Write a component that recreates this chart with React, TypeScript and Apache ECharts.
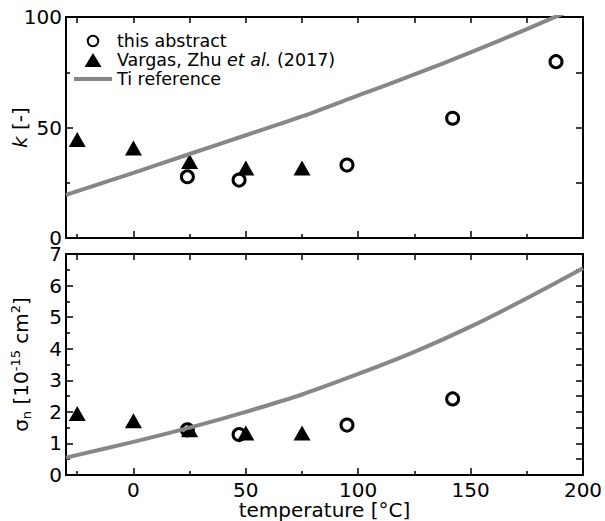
import React, { useEffect, useRef } from 'react';
import * as echarts from 'echarts';

const FONT = '"DejaVu Sans", Verdana, sans-serif';

// x-axis (temperature) ticks
const TEMP_MAJOR = [0, 50, 100, 150, 200];
const TEMP_MINOR = [-25, 25, 75, 125, 175];
const TEMP_ALL = [-25, 0, 25, 50, 75, 100, 125, 150, 175, 200];

// top panel: k [-]
const abstractTempK = [24, 47, 95, 142, 188];
const abstractK = [27.7, 26.2, 33.0, 54.2, 79.8];
const vargasTemp = [-25, 0, 25, 50, 75];
const vargasK = [44.6, 40.7, 34.6, 31.7, 31.7];
const tiTemp = [-30, 0, 25, 50, 75, 100, 125, 150, 175, 200];
const tiK = [19.5, 29.5, 38, 46.5, 55, 64.5, 74, 84, 94.5, 105.5];

// bottom panel: sigma_n [1e-15 cm^2]
const abstractTempSigma = [24, 47, 95, 142];
const abstractSigma = [1.43, 1.28, 1.58, 2.41];
const vargasSigma = [1.95, 1.72, 1.43, 1.33, 1.33];
const tiSigma = [0.55, 1.05, 1.5, 2.0, 2.55, 3.2, 3.9, 4.7, 5.6, 6.55];

const S_ABSTRACT = 'this abstract';
const S_VARGAS = 'Vargas, Zhu et al. (2017)';
const S_TI = 'Ti reference';

const pair = (xs: number[], ys: number[]) => xs.map((x, i) => [x, ys[i]]);

const lineStyle = { color: '#000', width: 2 };
const tickStyle = { color: '#000', width: 1.5 };
const labelStyle = { fontSize: 20, fontFamily: FONT, color: '#000' };

function xAxes(gridIndex: number, showLabels: boolean) {
  return [
    {
      type: 'value', gridIndex, position: 'bottom', min: -30, max: 200,
      axisLine: { show: true, onZero: false, lineStyle },
      axisTick: { show: true, inside: true, length: 7, customValues: TEMP_MAJOR, lineStyle: tickStyle },
      axisLabel: { show: showLabels, customValues: TEMP_MAJOR, margin: 5, ...labelStyle },
      splitLine: { show: false },
      name: showLabels ? 'temperature [°C]' : '',
      nameLocation: 'middle', nameGap: 25, nameMoveOverlap: false,
      nameTextStyle: { ...labelStyle },
    },
    {
      type: 'value', gridIndex, position: 'bottom', min: -30, max: 200,
      axisLine: { show: false, onZero: false },
      axisTick: { show: true, inside: true, length: 4, customValues: TEMP_MINOR, lineStyle: tickStyle },
      axisLabel: { show: false },
      splitLine: { show: false },
    },
    {
      type: 'value', gridIndex, position: 'top', min: -30, max: 200,
      axisLine: { show: true, onZero: false, lineStyle },
      axisTick: { show: true, inside: true, length: 6, customValues: TEMP_ALL, lineStyle: tickStyle },
      axisLabel: { show: false },
      splitLine: { show: false },
    },
  ];
}

function yAxes(gridIndex: number, max: number, interval: number, name: string, nameGap: number, rich: any) {
  return [
    {
      type: 'value', gridIndex, position: 'left', min: 0, max, interval,
      axisLine: { show: true, onZero: false, lineStyle },
      axisTick: { show: true, inside: true, length: 7, lineStyle: tickStyle },
      minorTick: { show: true, splitNumber: 2, length: 4, lineStyle: tickStyle },
      axisLabel: { margin: 4, ...labelStyle },
      splitLine: { show: false },
      minorSplitLine: { show: false },
      name, nameLocation: 'middle', nameGap, nameMoveOverlap: false,
      nameTextStyle: { ...labelStyle, rich },
    },
    {
      type: 'value', gridIndex, position: 'right', min: 0, max, interval: interval / 2,
      axisLine: { show: true, onZero: false, lineStyle },
      axisTick: { show: true, inside: true, length: 7, lineStyle: tickStyle },
      axisLabel: { show: false },
      splitLine: { show: false },
    },
  ];
}

const circleStyle = { color: '#fff', borderColor: '#000', borderWidth: 3, opacity: 1 };
const triStyle = { color: '#000', opacity: 1 };
const tiLine = { color: '#878787', width: 4 };

export default function App() {
  const ref = useRef<HTMLDivElement>(null);
  useEffect(() => {
    const chart = echarts.init(ref.current!, null, { renderer: 'svg' });
    const option: any = {
      animation: false,
      backgroundColor: '#fff',
      grid: [
        { left: 66, right: 22, top: 17, height: 221, outerBoundsMode: 'none' },
        { left: 66, right: 22, top: 254, height: 221, outerBoundsMode: 'none' },
      ],
      legend: {
        show: true, orient: 'vertical', left: 74, top: 32, padding: 0, itemGap: 1,
        itemWidth: 38, itemHeight: 14,
        textStyle: { fontSize: 17.5, fontFamily: FONT, color: '#000',
          rich: { i: { fontStyle: 'italic', fontSize: 17.5, fontFamily: FONT, color: '#000' } } },
        formatter: (n: string) => (n === S_VARGAS ? 'Vargas, Zhu {i|et al.} (2017)' : n),
        data: [
          { name: S_ABSTRACT, icon: 'path://M-2,-2M0,6A6,6 0 1,1 12,6A6,6 0 1,1 0,6ZM14,14' },
          { name: S_VARGAS, icon: 'path://M8.5,0L17,14L0,14Z' },
          { name: S_TI, icon: 'path://M0,0L38,0L38,4L0,4Z' },
        ],
      },
      xAxis: [...xAxes(0, false), ...xAxes(1, true)],
      yAxis: [
        ...yAxes(0, 100, 50, '{i|k} [-]', 36, { i: { fontStyle: 'italic', fontSize: 20, fontFamily: FONT, color: '#000' } }),
        ...yAxes(1, 7, 1, '{b|σ}{sub|n}{b| [10}{sup|-15}{b| cm}{sup|2}{b|]}', 33, {
          b: { fontSize: 20, fontFamily: FONT, color: '#000', lineHeight: 24 },
          sub: { fontSize: 13, fontFamily: FONT, color: '#000', verticalAlign: 'bottom' },
          sup: { fontSize: 13, fontFamily: FONT, color: '#000', verticalAlign: 'top' },
        }),
      ],
      series: [
        { name: S_ABSTRACT, type: 'scatter', xAxisIndex: 0, yAxisIndex: 0, symbol: 'circle', symbolSize: 12,
          itemStyle: circleStyle, data: pair(abstractTempK, abstractK), z: 2 },
        { name: S_VARGAS, type: 'scatter', xAxisIndex: 0, yAxisIndex: 0, symbol: 'triangle', symbolSize: [17, 15],
          itemStyle: triStyle, data: pair(vargasTemp, vargasK), z: 3 },
        { name: S_TI, type: 'line', xAxisIndex: 0, yAxisIndex: 0, symbol: 'none', showSymbol: false, smooth: 0.3,
          lineStyle: tiLine, itemStyle: { color: '#878787' }, data: pair(tiTemp, tiK), z: 4, clip: true },
        { name: S_ABSTRACT, type: 'scatter', xAxisIndex: 3, yAxisIndex: 2, symbol: 'circle', symbolSize: 12,
          itemStyle: circleStyle, data: pair(abstractTempSigma, abstractSigma), z: 2 },
        { name: S_VARGAS, type: 'scatter', xAxisIndex: 3, yAxisIndex: 2, symbol: 'triangle', symbolSize: [17, 15],
          itemStyle: triStyle, data: pair(vargasTemp, vargasSigma), z: 3 },
        { name: S_TI, type: 'line', xAxisIndex: 3, yAxisIndex: 2, symbol: 'none', showSymbol: false, smooth: 0.3,
          lineStyle: tiLine, itemStyle: { color: '#878787' }, data: pair(tiTemp, tiSigma), z: 4, clip: true },
      ],
    };
    chart.setOption(option);
    return () => chart.dispose();
  }, []);
  return (
    <div
      ref={ref}
      style={{ position: 'fixed', left: 0, top: 0, width: 605, height: 521, background: '#fff' }}
    />
  );
}
